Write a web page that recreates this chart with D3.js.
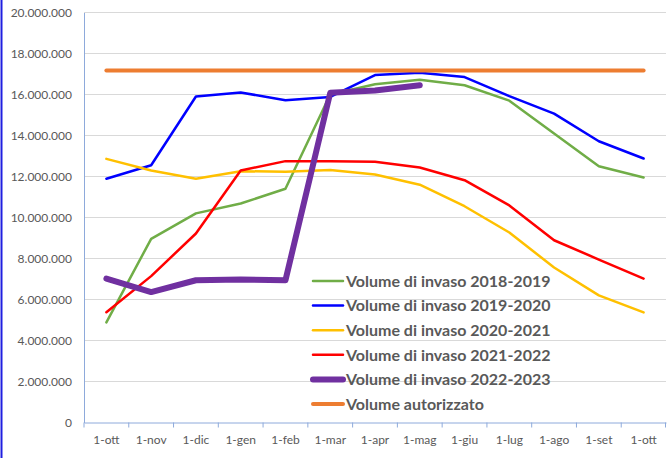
<!DOCTYPE html>
<html>
<head>
<meta charset="utf-8">
<script src="https://cdn.jsdelivr.net/npm/d3@7"></script>
<style>
  body { margin: 0; background: #fff; }
  svg { display: block; }
</style>
</head>
<body>
<div id="chart"></div>
<script>
// SVG size
const width = 667;
const height = 458;
const margin = { top: 12.5, right: 1, bottom: 35, left: 84 };

// data
const months = ["1-ott", "1-nov", "1-dic", "1-gen", "1-feb", "1-mar", "1-apr",
  "1-mag", "1-giu", "1-lug", "1-ago", "1-set", "1-ott "];
const yTicks = [0, 2e6, 4e6, 6e6, 8e6, 10e6, 12e6, 14e6, 16e6, 18e6, 20e6];

const v2018 = [4.88e6, 8.96e6, 10.2e6, 10.68e6, 11.4e6, 16.0e6, 16.5e6, 16.72e6, 16.45e6, 15.7e6, 14.1e6, 12.5e6, 11.95e6];
const v2019 = [11.89e6, 12.55e6, 15.9e6, 16.1e6, 15.72e6, 15.88e6, 16.95e6, 17.06e6, 16.85e6, 15.92e6, 15.07e6, 13.72e6, 12.88e6];
const v2020 = [12.86e6, 12.29e6, 11.89e6, 12.26e6, 12.23e6, 12.32e6, 12.1e6, 11.6e6, 10.55e6, 9.27e6, 7.56e6, 6.2e6, 5.37e6];
const v2021 = [5.38e6, 7.14e6, 9.22e6, 12.29e6, 12.75e6, 12.75e6, 12.72e6, 12.44e6, 11.82e6, 10.59e6, 8.89e6, 7.95e6, 7.02e6];
const v2022 = [7.02e6, 6.36e6, 6.94e6, 6.98e6, 6.94e6, 16.08e6, 16.2e6, 16.45e6];
const vAut = [17.17e6, 17.17e6, 17.17e6, 17.17e6, 17.17e6, 17.17e6, 17.17e6, 17.17e6, 17.17e6, 17.17e6, 17.17e6, 17.17e6, 17.17e6];

const seriesNames = ["Volume di invaso 2018-2019", "Volume di invaso 2019-2020", "Volume di invaso 2020-2021",
  "Volume di invaso 2021-2022", "Volume di invaso 2022-2023", "Volume autorizzato"];
const seriesValues = [v2018, v2019, v2020, v2021, v2022, vAut];
const seriesColors = ["#70ad47", "#0000ff", "#ffc000", "#ff0000", "#7030a0", "#ed7d31"];
const seriesWidths = [2.5, 2.5, 2.5, 2.5, 6, 4];

const svg = d3.select("#chart")
  .append("svg")
  .attr("width", width)
  .attr("height", height);

// left blue frame edge
svg.append("line")
  .attr("x1", 1.5).attr("x2", 1.5)
  .attr("y1", 0).attr("y2", height)
  .attr("stroke", "#1f1fe0")
  .attr("stroke-width", 2);

const xScale = d3.scaleBand()
  .domain(months)
  .range([margin.left, width - margin.right])
  .padding(0);

const yScale = d3.scaleLinear()
  .domain([0, 20e6])
  .range([height - margin.bottom - 0.5, margin.top]);

const fmt = d => d3.format(",")(d).replace(/,/g, ".");

// gridlines
svg.append("g")
  .selectAll("line")
  .data(yTicks.slice(1))
  .enter()
  .append("line")
  .attr("x1", margin.left)
  .attr("x2", width - margin.right)
  .attr("y1", d => yScale(d))
  .attr("y2", d => yScale(d))
  .attr("stroke", "#d9d9d9")
  .attr("stroke-width", 1);

// Y axis
const yAxis = svg.append("g")
  .attr("transform", `translate(${margin.left}, 0)`)
  .call(d3.axisLeft(yScale).tickValues(yTicks).tickSize(0).tickPadding(12).tickFormat(fmt));
yAxis.select(".domain").attr("stroke", "#8eaadb");
yAxis.selectAll("text")
  .style("font-family", "Lato")
  .style("font-size", "12px")
  .attr("fill", "#595959");

// X axis
const xAxis = svg.append("g")
  .attr("transform", `translate(0, ${yScale(0)})`)
  .call(d3.axisBottom(xScale).tickSize(0).tickPadding(13).tickSizeOuter(0));
xAxis.select(".domain").attr("stroke", "#8eaadb");
xAxis.selectAll("text")
  .style("font-family", "Lato")
  .style("font-size", "12px")
  .attr("fill", "#595959");

// tick marks between categories
const boundaries = months.map(m => xScale(m)).concat([xScale.range()[1] - 0.5]);
svg.append("g")
  .selectAll("line")
  .data(boundaries)
  .enter()
  .append("line")
  .attr("x1", d => d)
  .attr("x2", d => d)
  .attr("y1", yScale(0))
  .attr("y2", yScale(0) + 5)
  .attr("stroke", "#8eaadb");

// lines
const line = d3.line()
  .x((d, i) => xScale(months[i]) + xScale.bandwidth() / 2)
  .y(d => yScale(d));

svg.append("g")
  .selectAll("path")
  .data(seriesValues)
  .enter()
  .append("path")
  .attr("d", d => line(d))
  .attr("fill", "none")
  .attr("stroke", (d, i) => seriesColors[i])
  .attr("stroke-width", (d, i) => seriesWidths[i])
  .attr("stroke-linejoin", "round")
  .attr("stroke-linecap", "round");

// Legend
const legend = svg.append("g")
  .attr("transform", "translate(313, 281)");

const legendItems = legend.selectAll(".legend-item")
  .data(seriesNames)
  .enter()
  .append("g")
  .attr("class", "legend-item")
  .attr("transform", (d, i) => `translate(0, ${i * 24.6})`);

legendItems.append("line")
  .attr("x1", 0)
  .attr("x2", 30)
  .attr("stroke", (d, i) => seriesColors[i])
  .attr("stroke-width", (d, i) => seriesWidths[i])
  .attr("stroke-linecap", "round");

legendItems.append("text")
  .attr("x", 33)
  .attr("y", 5.8)
  .style("font-family", "Lato")
  .style("font-weight", "bold")
  .style("font-size", "16px")
  .attr("fill", "#595959")
  .text(d => d);
</script>
</body>
</html>
